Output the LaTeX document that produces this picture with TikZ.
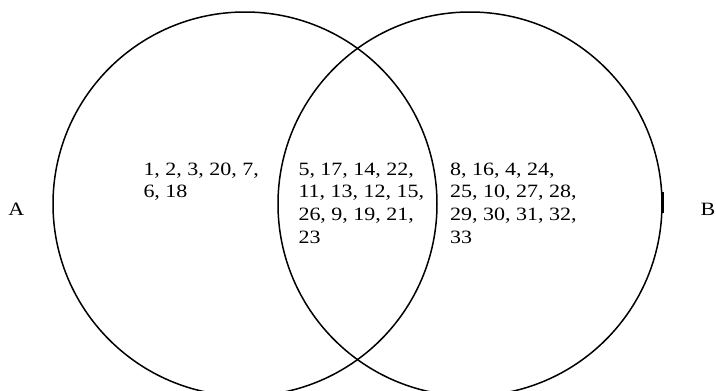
\documentclass[tikz,border=0pt]{standalone}
\usepackage{fontspec}
\setmainfont[FakeStretch=1.17]{Liberation Serif}
\begin{document}
\begin{tikzpicture}[x=1pt,y=-1pt,
  setcircle/.style={circle,draw=black,line width=1.5pt,minimum size=384pt,inner sep=0pt},
  settext/.style={anchor=base west,inner sep=0pt,align=left,font=\fontsize{18.8}{22.7}\selectfont},
  setlabel/.style={anchor=base west,inner sep=0pt,font=\fontsize{18.8}{22.7}\selectfont}]
\useasboundingbox (0,0) rectangle (716,391);
\clip (0,0) rectangle (716,391);
\node[setcircle] (cA) at (245,204) {};
\node[setcircle] (cB) at (470,204) {};
\draw[line width=2.6pt] (662.2,192) -- (662.2,213);
% base west anchors the last line of a multi-line node
\node[settext] (onlyA) at (143.3,197.7) {1, 2, 3, 20, 7,\\6, 18};
\node[settext] (both) at (298.3,243.1) {5, 17, 14, 22,\\11, 13, 12, 15,\\26, 9, 19, 21,\\23};
\node[settext] (onlyB) at (450,243.1) {8, 16, 4, 24,\\25, 10, 27, 28,\\29, 30, 31, 32,\\33};
\node[setlabel] (labA) at (8.3,215.5) {A};
\node[setlabel] (labB) at (700.5,215.5) {B};
\end{tikzpicture}
\end{document}
